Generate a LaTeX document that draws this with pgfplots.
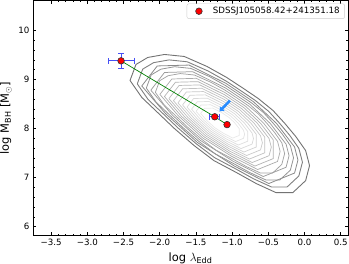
\documentclass[border=0pt]{standalone}
\usepackage{fontspec}
\setmainfont{DejaVu Sans}
\usepackage{pgfplots}
\pgfplotsset{compat=1.18}
\usetikzlibrary{arrows.meta}
\definecolor{ebblue}{RGB}{70,80,245}
\definecolor{arrowblue}{RGB}{40,140,255}
\begin{document}
\begin{tikzpicture}
\begin{axis}[
  scale only axis,
  width=315bp, height=235bp,
  xmin=-3.75, xmax=0.6,
  ymin=5.82, ymax=10.61,
  xtick={-3.5,-3,-2.5,-2,-1.5,-1,-0.5,0,0.5},
  xticklabels={−3.5,−3.0,−2.5,−2.0,−1.5,−1.0,−0.5,0.0,0.5},
  ytick={6,7,8,9,10},
  yticklabels={6,7,8,9,10},
  minor x tick num=4,
  minor y tick num=4,
  tick align=inside,
  tick pos=both,
  major tick length=3.5bp,
  minor tick length=2bp,
  every tick/.style={black, line width=0.6bp},
  axis line style={line width=0.8bp},
  tick label style={font=\fontsize{8.7}{10}\selectfont},
  label style={font=\fontsize{11.5}{13}\selectfont},
  xlabel={log $\lambda$\textsubscript{Edd}},
  ylabel={log M\textsubscript{BH} [M\textsubscript{$\odot$}]},
  legend style={at={(rel axis cs:0.99,0.987)}, anchor=north east,
    font=\fontsize{8.7}{10}\selectfont, draw=black!20, rounded corners=2pt,
    inner xsep=3bp, inner ysep=1.5bp},
  legend cell align=left,
  legend image code/.code={\path[draw=none,fill=none] (-9bp,-3bp) rectangle (12bp,3bp); \draw[#1] plot coordinates {(0bp,0bp)};},
]
% contours (outer to inner)
\addplot[black!55, line width=0.9bp, forget plot] coordinates {
(-2.410,8.980) (-2.328,9.306) (-2.165,9.449) (-1.933,9.510) (-1.661,9.469) (-1.347,9.265)
(-1.075,9.041) (-0.843,8.816) (-0.639,8.612) (-0.435,8.367) (-0.271,8.102) (-0.121,7.837)
(0.015,7.551) (0.069,7.245) (0.015,6.939) (-0.162,6.694) (-0.394,6.694) (-0.666,6.878)
(-0.939,7.102) (-1.252,7.347) (-1.525,7.653) (-1.797,8.000) (-2.029,8.327) (-2.247,8.633) (-2.410,8.980)};
\addplot[black!50, line width=0.9bp, forget plot] coordinates {
(-2.310,8.911) (-2.235,9.211) (-2.085,9.343) (-1.871,9.399) (-1.621,9.361) (-1.332,9.173)
(-1.082,8.967) (-0.868,8.760) (-0.681,8.573) (-0.493,8.347) (-0.342,8.103) (-0.204,7.860)
(-0.079,7.597) (-0.029,7.315) (-0.079,7.033) (-0.242,6.808) (-0.455,6.808) (-0.706,6.977)
(-0.957,7.183) (-1.245,7.409) (-1.496,7.690) (-1.746,8.010) (-1.959,8.310) (-2.160,8.592) (-2.310,8.911)};
\addplot[black!46, line width=0.8bp, forget plot] coordinates {
(-2.248,8.868) (-2.034,9.276) (-1.596,9.294) (-1.086,8.921) (-0.707,8.548) (-0.387,8.104)
(-0.138,7.625) (-0.091,7.359) (-0.138,7.093) (-0.494,6.879) (-0.968,7.234) (-1.478,7.714) (-1.916,8.300) (-2.248,8.868)};
\addplot[black!42, line width=0.8bp, forget plot] coordinates {
(-2.185,8.825) (-2.118,9.093) (-1.984,9.210) (-1.794,9.260) (-1.571,9.226) (-1.313,9.059)
(-1.090,8.875) (-0.900,8.691) (-0.733,8.523) (-0.565,8.323) (-0.431,8.105) (-0.308,7.888)
(-0.196,7.653) (-0.152,7.402) (-0.196,7.152) (-0.342,6.951) (-0.532,6.951) (-0.755,7.102)
(-0.979,7.285) (-1.235,7.486) (-1.459,7.737) (-1.682,8.022) (-1.873,8.290) (-2.051,8.541) (-2.185,8.825)};
\addplot[black!39, line width=0.75bp, forget plot] coordinates {
(-2.123,8.782) (-1.934,9.143) (-1.546,9.159) (-1.095,8.829) (-0.759,8.499) (-0.475,8.106)
(-0.255,7.682) (-0.214,7.446) (-0.255,7.211) (-0.570,7.022) (-0.990,7.336) (-1.441,7.760) (-1.829,8.279) (-2.123,8.782)};
\addplot[black!36, line width=0.75bp, forget plot] coordinates {
(-2.060,8.739) (-2.001,8.974) (-1.884,9.077) (-1.717,9.121) (-1.521,9.091) (-1.295,8.944)
(-1.099,8.783) (-0.932,8.621) (-0.785,8.474) (-0.638,8.298) (-0.520,8.107) (-0.412,7.916)
(-0.314,7.710) (-0.275,7.490) (-0.314,7.270) (-0.441,7.093) (-0.608,7.093) (-0.804,7.226)
(-1.001,7.387) (-1.226,7.563) (-1.423,7.784) (-1.619,8.034) (-1.786,8.269) (-1.943,8.489) (-2.060,8.739)};
\addplot[black!33, line width=0.7bp, forget plot] coordinates {
(-1.998,8.696) (-1.833,9.010) (-1.496,9.024) (-1.103,8.737) (-0.811,8.450) (-0.564,8.108)
(-0.373,7.739) (-0.337,7.534) (-0.373,7.329) (-0.647,7.165) (-1.012,7.438) (-1.405,7.807) (-1.742,8.259) (-1.998,8.696)};
\addplot[black!30, line width=0.7bp, forget plot] coordinates {
(-1.935,8.653) (-1.783,8.944) (-1.471,8.956) (-1.107,8.691) (-0.837,8.425) (-0.609,8.109)
(-0.431,7.767) (-0.431,7.388) (-0.685,7.236) (-1.023,7.489) (-1.386,7.830) (-1.699,8.248) (-1.935,8.653)};
\addplot[black!27, line width=0.7bp, forget plot] coordinates {
(-1.873,8.610) (-1.733,8.878) (-1.446,8.889) (-1.112,8.645) (-0.863,8.400) (-0.653,8.110)
(-0.490,7.796) (-0.459,7.621) (-0.490,7.447) (-0.723,7.307) (-1.034,7.540) (-1.368,7.854) (-1.655,8.238) (-1.873,8.610)};
\addplot[black!24, line width=0.7bp, forget plot] coordinates {
(-1.810,8.567) (-1.683,8.811) (-1.421,8.821) (-1.116,8.599) (-0.889,8.376) (-0.698,8.111)
(-0.549,7.824) (-0.549,7.506) (-0.762,7.378) (-1.045,7.591) (-1.350,7.877) (-1.612,8.228) (-1.810,8.567)};
\addplot[black!21, line width=0.7bp, forget plot] coordinates {
(-1.748,8.524) (-1.632,8.745) (-1.395,8.754) (-1.120,8.553) (-0.915,8.351) (-0.742,8.112)
(-0.608,7.853) (-0.582,7.709) (-0.608,7.565) (-0.800,7.450) (-1.056,7.642) (-1.332,7.901) (-1.568,8.217) (-1.748,8.524)};
\addplot[black!18, line width=0.7bp, forget plot] coordinates {
(-1.685,8.481) (-1.582,8.678) (-1.370,8.687) (-1.124,8.507) (-0.941,8.327) (-0.787,8.112)
(-0.666,7.881) (-0.666,7.624) (-0.838,7.521) (-1.067,7.692) (-1.313,7.924) (-1.525,8.207) (-1.685,8.481)};
\addplot[black!15, line width=0.7bp, forget plot] coordinates {
(-1.623,8.438) (-1.532,8.612) (-1.345,8.619) (-1.129,8.461) (-0.967,8.302) (-0.831,8.113)
(-0.725,7.909) (-0.705,7.796) (-0.725,7.683) (-0.877,7.592) (-1.078,7.743) (-1.295,7.947) (-1.482,8.197) (-1.623,8.438)};
\addplot[black!13, line width=0.7bp, forget plot] coordinates {
(-1.560,8.395) (-1.482,8.545) (-1.320,8.552) (-1.133,8.415) (-0.993,8.277) (-0.876,8.114)
(-0.784,7.938) (-0.784,7.742) (-0.915,7.664) (-1.089,7.794) (-1.277,7.971) (-1.438,8.186) (-1.560,8.395)};
\addplot[black!11, line width=0.7bp, forget plot] coordinates {
(-1.498,8.352) (-1.431,8.479) (-1.295,8.484) (-1.137,8.369) (-1.019,8.253) (-0.920,8.115)
(-0.843,7.966) (-0.828,7.884) (-0.843,7.801) (-0.953,7.735) (-1.100,7.845) (-1.259,7.994) (-1.395,8.176) (-1.498,8.352)};
\addplot[black!9, line width=0.7bp, forget plot] coordinates {
(-1.435,8.309) (-1.381,8.412) (-1.270,8.417) (-1.141,8.323) (-1.045,8.228) (-0.964,8.116)
(-0.901,7.995) (-0.901,7.860) (-0.991,7.806) (-1.111,7.896) (-1.240,8.017) (-1.351,8.166) (-1.435,8.309)};
% green connecting line
\addplot[color={rgb,255:red,0;green,128;blue,0}, line width=0.7bp, forget plot] coordinates {
(-2.534,9.38) (-1.24,8.24) (-1.07,8.08)};
% blue arrow
\addplot[arrowblue, line width=2.6bp, -{Triangle[length=4bp,width=6bp]}, forget plot] coordinates {
(-1.03,8.57) (-1.175,8.35)};
% error bars
\addplot[only marks, mark=none, forget plot, ebblue,
  error bars/.cd, x dir=both, x explicit, y dir=both, y explicit,
  error bar style={ebblue, line width=0.9bp},
  error mark options={rotate=90, mark size=3bp, ebblue, line width=0.9bp}]
  coordinates {(-2.534,9.38) +- (0.18,0.16) (-1.24,8.24) +- (0.07,0.03)};
% red points
\addplot[only marks, mark=*, mark size=3.3bp, mark options={fill=red, draw=black!80, line width=0.6bp}]
  coordinates {(-2.534,9.38) (-1.24,8.24) (-1.07,8.08)};
\addlegendentry{SDSSJ105058.42+241351.18}
\end{axis}
\pgfresetboundingbox
\path[use as bounding box] (-33bp,-28.5bp) rectangle (316bp,235.5bp);
\end{tikzpicture}
\end{document}
